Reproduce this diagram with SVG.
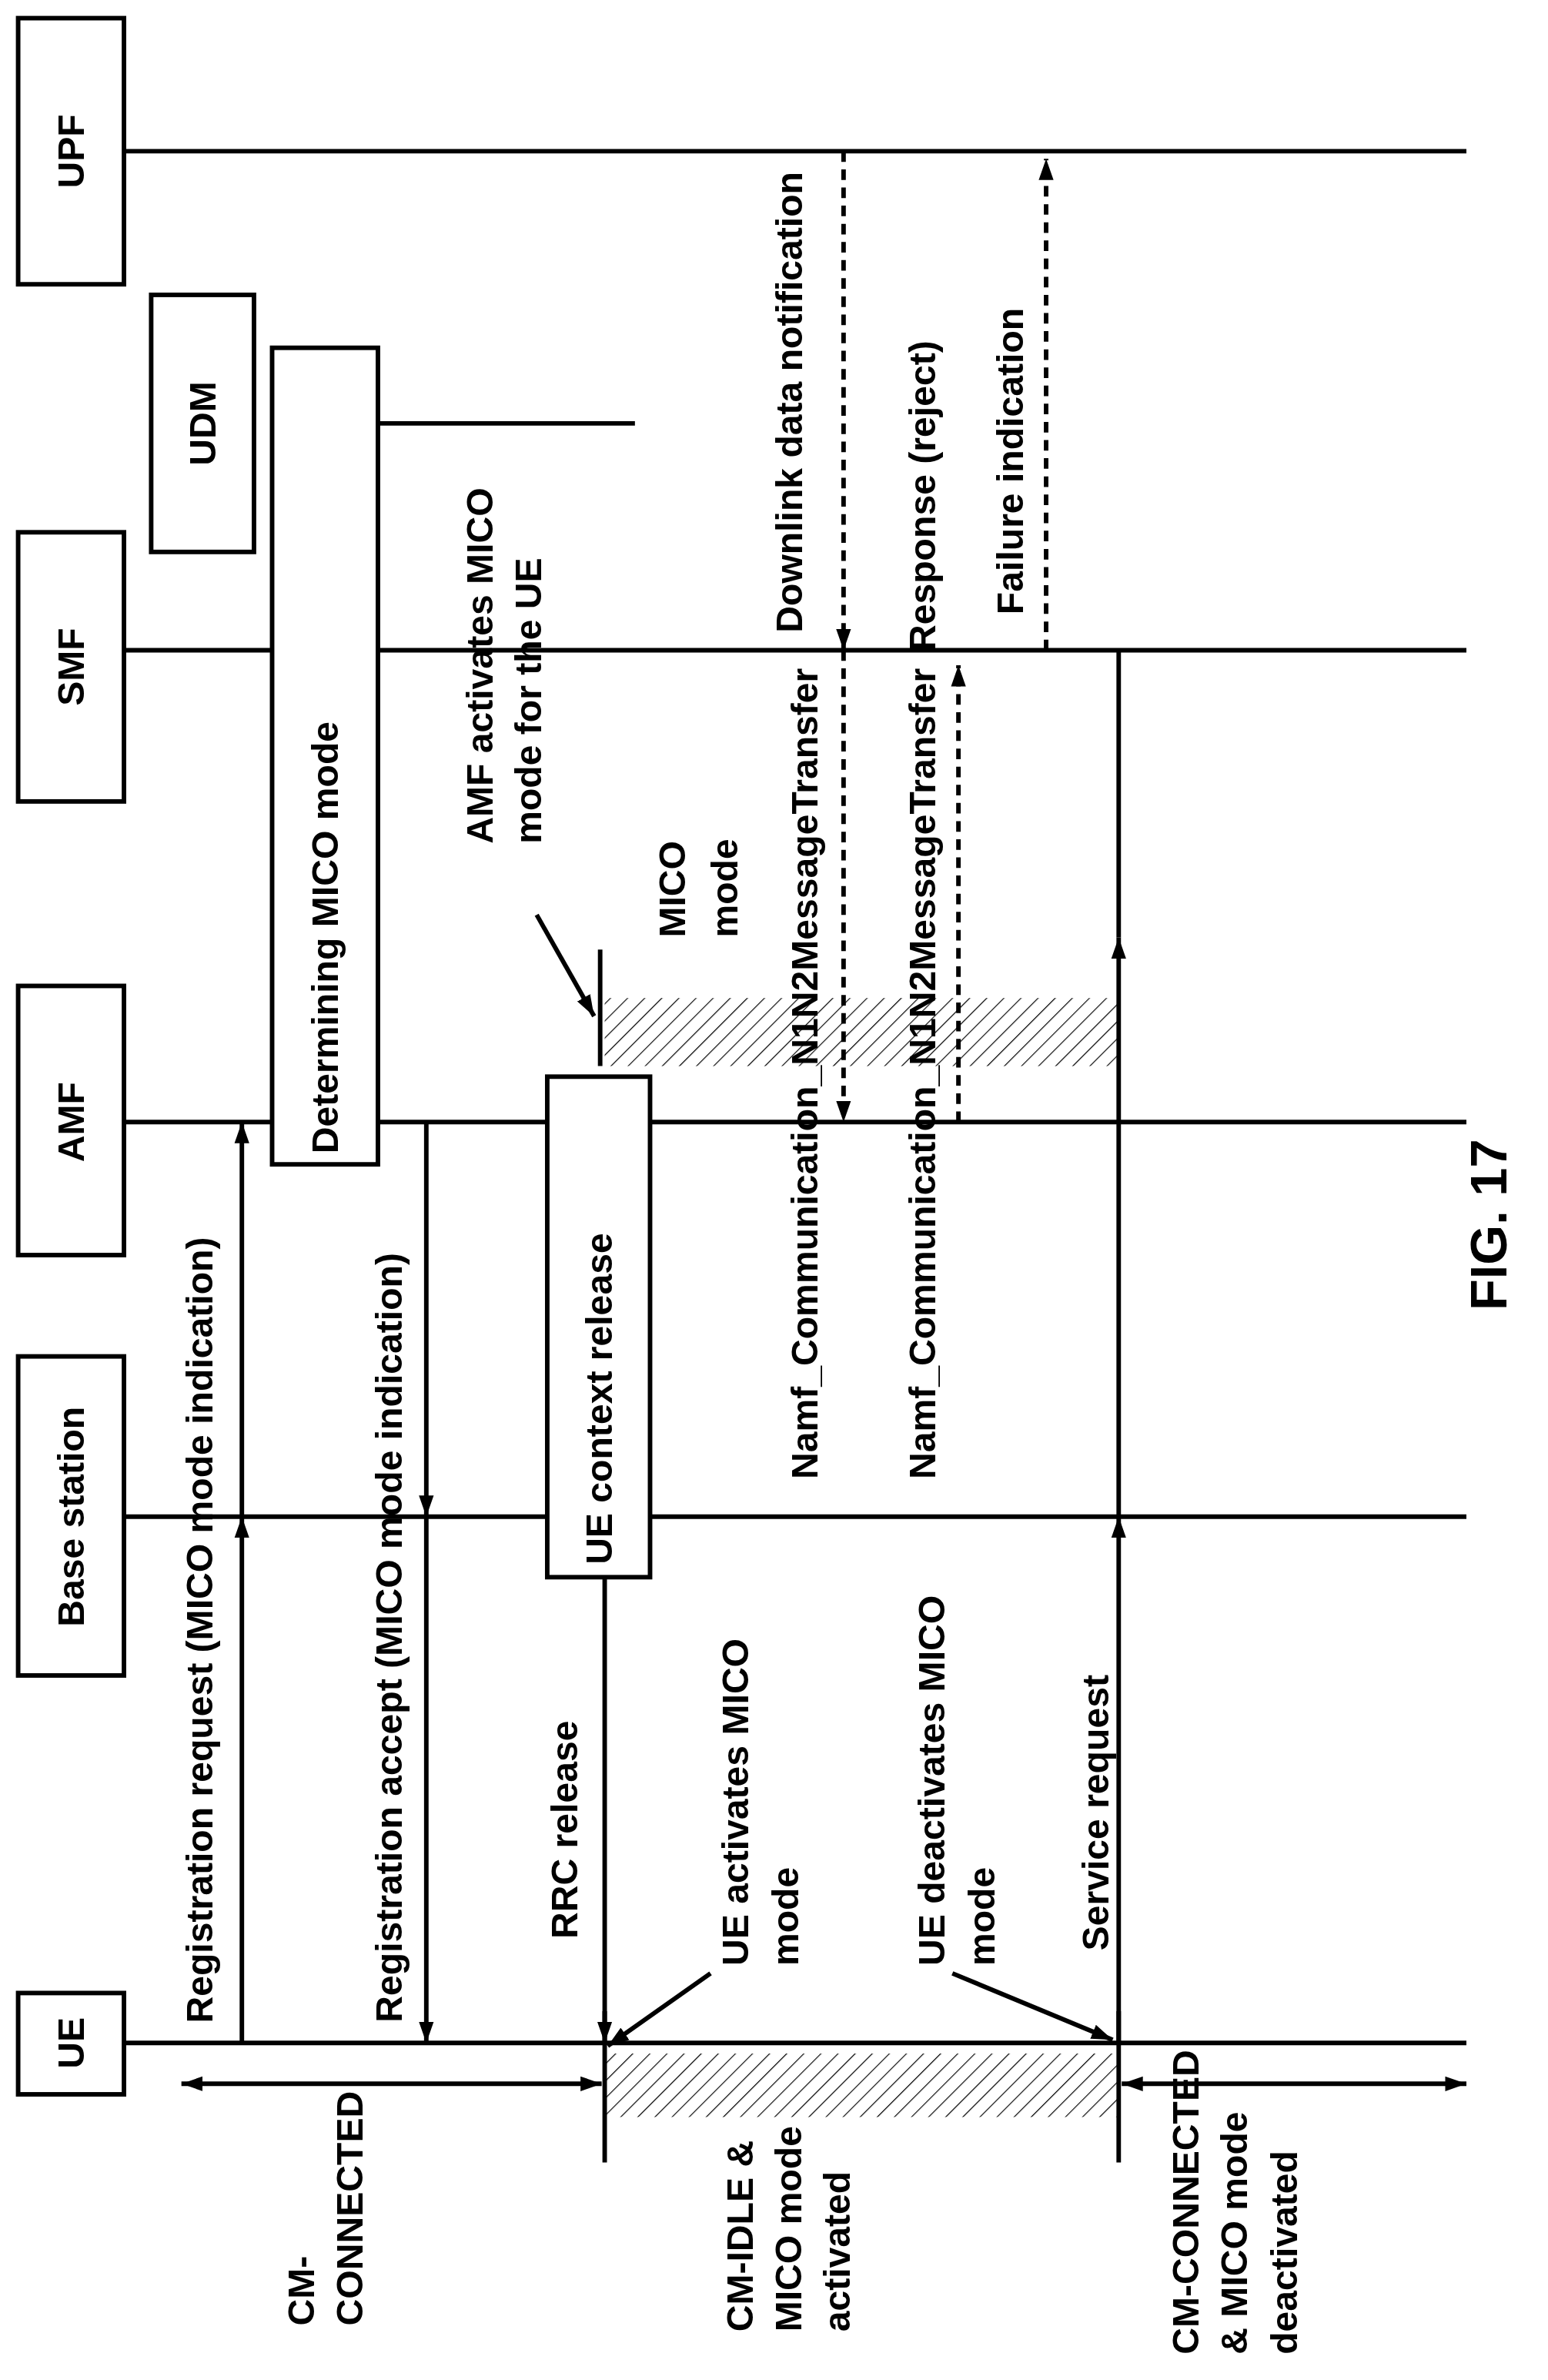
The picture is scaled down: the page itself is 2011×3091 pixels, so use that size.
<svg xmlns="http://www.w3.org/2000/svg" width="2011" height="3091" viewBox="0 0 2011 3091">
<defs>
<style>
.l{stroke:#000;stroke-width:3;fill:none}
.d{stroke:#000;stroke-width:3;fill:none;stroke-dasharray:7,5}
.b{stroke:#000;stroke-width:3;fill:#fff}
text{font-family:"Liberation Sans",Arial,sans-serif;font-weight:bold;font-size:24.5px;fill:#000}
.m{text-anchor:middle;dominant-baseline:central}
</style>
<marker id="ah" viewBox="0 0 10 10" refX="10" refY="5" markerWidth="14" markerHeight="14" orient="auto-start-reverse" markerUnits="userSpaceOnUse"><path d="M0,1.5L10,5L0,8.5z" fill="#000"/></marker>
<pattern id="h" width="8" height="8" patternUnits="userSpaceOnUse" patternTransform="rotate(45)"><line x1="0" y1="0" x2="0" y2="8" stroke="#000" stroke-width="1.2"/></pattern>
</defs>
<rect width="2011" height="3091" fill="#fff"/>
<g transform="scale(1.9639)">
<g id="lifelines">
<line class="l" x1="82" y1="100" x2="970" y2="100"/>
<line class="l" x1="250" y1="280" x2="420" y2="280"/>
<line class="l" x1="82" y1="430" x2="970" y2="430"/>
<line class="l" x1="82" y1="742" x2="970" y2="742"/>
<line class="l" x1="82" y1="1003" x2="970" y2="1003"/>
<line class="l" x1="82" y1="1351" x2="970" y2="1351"/>
</g>
<g id="hatch">
<rect x="400" y="660" width="340" height="45" fill="url(#h)"/>
<rect x="400" y="1358" width="340" height="42" fill="url(#h)"/>
<line class="l" x1="397" y1="628" x2="397" y2="705"/>
<line class="l" x1="400" y1="1330" x2="400" y2="1430"/>
<line class="l" x1="740" y1="1330" x2="740" y2="1430"/>
</g>
<g id="upf"><rect class="b" x="12" y="12" width="70" height="176"/><text class="m" transform="translate(47,100) rotate(-90)">UPF</text></g>
<g id="udm"><rect class="b" x="100" y="195" width="68" height="170"/><text class="m" transform="translate(134,280) rotate(-90)">UDM</text></g>
<g id="smf"><rect class="b" x="12" y="352" width="70" height="178"/><text class="m" transform="translate(47,441) rotate(-90)">SMF</text></g>
<g id="amf"><rect class="b" x="12" y="652" width="70" height="178"/><text class="m" transform="translate(47,742) rotate(-90)">AMF</text></g>
<g id="bs"><rect class="b" x="12" y="897" width="70" height="211"/><text class="m" transform="translate(47,1003) rotate(-90)">Base station</text></g>
<g id="ue"><rect class="b" x="12" y="1318" width="70" height="67"/><text class="m" transform="translate(47,1351) rotate(-90)">UE</text></g>
<g id="det"><rect class="b" x="180" y="230" width="70" height="540"/><text class="m" transform="translate(215,620) rotate(-90)">Determining MICO mode</text></g>
<g id="ctx"><rect class="b" x="362" y="712" width="68" height="331"/><text class="m" transform="translate(396,925) rotate(-90)">UE context release</text></g>
<g id="connectors">
<line class="l" x1="160" y1="1351" x2="160" y2="1003" marker-end="url(#ah)"/>
<line class="l" x1="160" y1="1003" x2="160" y2="742" marker-end="url(#ah)"/>
<line class="l" x1="282" y1="742" x2="282" y2="1003" marker-end="url(#ah)"/>
<line class="l" x1="282" y1="1003" x2="282" y2="1351" marker-end="url(#ah)"/>
<line class="l" x1="400" y1="1043" x2="400" y2="1351" marker-end="url(#ah)"/>
<line class="l" x1="740" y1="1351" x2="740" y2="1003" marker-end="url(#ah)"/>
<line class="l" x1="740" y1="1003" x2="740" y2="620" marker-end="url(#ah)"/>
<line class="l" x1="740" y1="620" x2="740" y2="430"/>
<line class="d" x1="558" y1="100" x2="558" y2="430" marker-end="url(#ah)"/>
<line class="d" x1="558" y1="430" x2="558" y2="742" marker-end="url(#ah)"/>
<line class="d" x1="634" y1="742" x2="634" y2="440" marker-end="url(#ah)"/>
<line class="d" x1="692" y1="430" x2="692" y2="105" marker-end="url(#ah)"/>
<line class="l" x1="120" y1="1378" x2="398" y2="1378" marker-start="url(#ah)" marker-end="url(#ah)"/>
<line class="l" x1="742" y1="1378" x2="970" y2="1378" marker-start="url(#ah)" marker-end="url(#ah)"/>
<line class="l" x1="355" y1="605" x2="393" y2="672" marker-end="url(#ah)"/>
<line class="l" x1="470" y1="1305" x2="402" y2="1353" marker-end="url(#ah)"/>
<line class="l" x1="630" y1="1305" x2="736" y2="1349" marker-end="url(#ah)"/>
</g>
<g id="labels">
<text class="m" transform="translate(132,1078) rotate(-90)">Registration request (MICO mode indication)</text>
<text class="m" transform="translate(257,1083) rotate(-90)">Registration accept (MICO mode indication)</text>
<text class="m" transform="translate(373,1210) rotate(-90)">RRC release</text>
<text transform="translate(495,1300) rotate(-90)">UE activates MICO</text>
<text transform="translate(528,1300) rotate(-90)">mode</text>
<text transform="translate(625,1300) rotate(-90)">UE deactivates MICO</text>
<text transform="translate(658,1300) rotate(-90)">mode</text>
<text transform="translate(733,1290) rotate(-90)">Service request</text>
<text transform="translate(208,1538) rotate(-90)">CM-</text>
<text transform="translate(240,1538) rotate(-90)">CONNECTED</text>
<text transform="translate(498,1542) rotate(-90)">CM-IDLE &amp;</text>
<text transform="translate(530,1542) rotate(-90)">MICO mode</text>
<text transform="translate(562,1542) rotate(-90)">activated</text>
<text transform="translate(793,1557) rotate(-90)">CM-CONNECTED</text>
<text transform="translate(825,1557) rotate(-90)">&amp; MICO mode</text>
<text transform="translate(858,1557) rotate(-90)">deactivated</text>
<text class="m" transform="translate(532,710) rotate(-90)">Namf_Communication_N1N2MessageTransfer</text>
<text class="m" transform="translate(610,710) rotate(-90)">Namf_Communication_N1N2MessageTransfer</text>
<text class="m" transform="translate(522,266) rotate(-90)">Downlink data notification</text>
<text class="m" transform="translate(610,328) rotate(-90)">Response (reject)</text>
<text class="m" transform="translate(668,305) rotate(-90)">Failure indication</text>
<text transform="translate(326,558) rotate(-90)">AMF activates MICO</text>
<text transform="translate(358,558) rotate(-90)">mode for the UE</text>
<text transform="translate(453,620) rotate(-90)">MICO</text>
<text transform="translate(488,620) rotate(-90)">mode</text>
<text class="m" style="font-size:34px" transform="translate(985,810) rotate(-90)">FIG. 17</text>
</g>
</g>
</svg>
